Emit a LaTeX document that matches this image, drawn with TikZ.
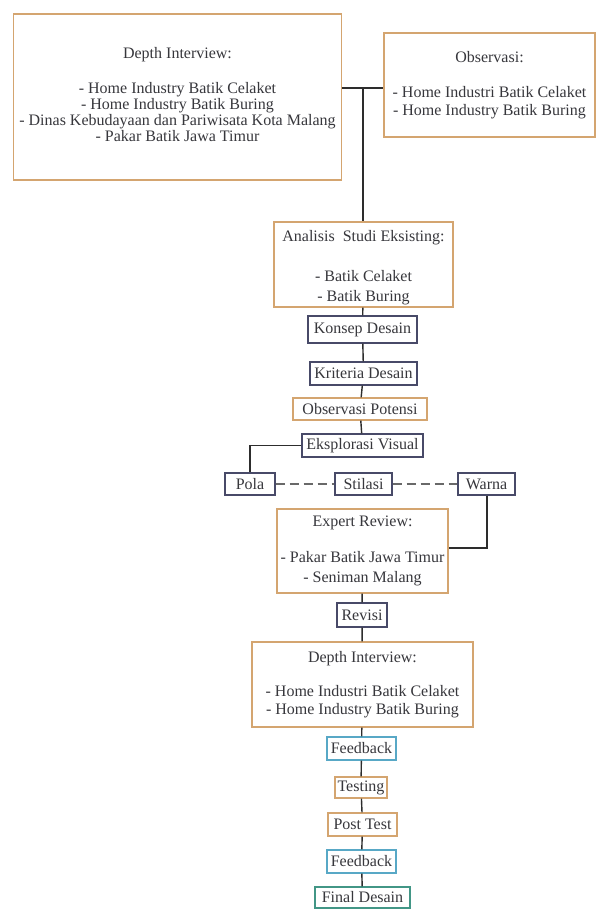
\documentclass[tikz,border=0pt]{standalone}
\usepackage{fontspec}
\setmainfont{Liberation Serif}
\definecolor{orangeb}{RGB}{212,165,112}
\definecolor{navyb}{RGB}{72,74,104}
\definecolor{fbblue}{RGB}{88,168,198}
\definecolor{finteal}{RGB}{66,150,134}
\definecolor{linec}{RGB}{45,45,45}
\definecolor{txtc}{RGB}{55,55,60}
\definecolor{dashc}{RGB}{105,105,105}
\begin{document}
\begin{tikzpicture}[x=1pt,y=-1pt,
  box/.style={draw, line width=1.4pt, inner sep=0pt, align=center, text=txtc,
    font=\fontsize{16}{16.5}\selectfont},
  obox/.style={box, draw=orangeb, fill=white},
  nbox/.style={box, draw=navyb},
  bbox/.style={box, draw=fbblue},
  tbox/.style={box, draw=finteal},
  conn/.style={draw=linec, line width=1.4pt},
  dconn/.style={draw=dashc, line width=1.7pt, dash pattern=on 9pt off 5pt}]
\useasboundingbox (0,0) rectangle (597,910);
\fill[white] (0,0) rectangle (597,910);

\node[obox, minimum width=328pt, minimum height=166pt] (di1) at (177.5,97)
  {Depth Interview:\\[18pt]- Home Industry Batik Celaket\\[-0.5pt]- Home Industry Batik Buring\\[-0.5pt]- Dinas Kebudayaan dan Pariwisata Kota Malang\\[-0.5pt]- Pakar Batik Jawa Timur\\[-11pt]};
\node[obox, minimum width=211pt, minimum height=104pt] (obs) at (489.5,85)
  {Observasi:\\[19pt]- Home Industri Batik Celaket\\[1.5pt]- Home Industry Batik Buring\\[-13pt]};
\node[obox, minimum width=179pt, minimum height=85pt] (ana) at (363.5,264.5)
  {Analisis\ \ Studi Eksisting:\\[24pt]- Batik Celaket\\[3.5pt]- Batik Buring\\[-19.5pt]};
\node[nbox, minimum width=109pt, minimum height=27pt] (kon) at (362.5,329.5) {Konsep Desain};
\node[nbox, minimum width=107pt, minimum height=23pt] (kri) at (363.5,373.5) {Kriteria Desain};
\node[obox, minimum width=134pt, minimum height=22pt] (obp) at (360,409) {Observasi Potensi};
\node[nbox, minimum width=121pt, minimum height=23pt] (eks) at (362.5,445.5) {Eksplorasi Visual};
\node[nbox, minimum width=50pt, minimum height=22pt] (pola) at (250,484) {Pola};
\node[nbox, minimum width=57pt, minimum height=22pt] (stil) at (363.5,484) {Stilasi};
\node[nbox, minimum width=57pt, minimum height=22pt] (warna) at (486.5,484) {Warna};
\node[obox, minimum width=171pt, minimum height=84pt] (exp) at (362.5,551)
  {Expert Review:\\[20pt]- Pakar Batik Jawa Timur\\[3.5pt]- Seniman Malang};
\node[nbox, minimum width=50pt, minimum height=24pt] (rev) at (362,615) {Revisi};
\node[obox, minimum width=221pt, minimum height=85pt] (di2) at (362.5,684.5)
  {Depth Interview:\\[18pt]- Home Industri Batik Celaket\\[1.5pt]- Home Industry Batik Buring};
\node[bbox, minimum width=69pt, minimum height=23pt] (fb1) at (361.5,748.5) {Feedback};
\node[obox, minimum width=52pt, minimum height=21pt] (tes) at (361,787.5) {Testing};
\node[obox, minimum width=69pt, minimum height=23pt] (post) at (362.5,824.5) {Post Test};
\node[bbox, minimum width=69pt, minimum height=23pt] (fb2) at (361.5,861.5) {Feedback};
\node[tbox, minimum width=95pt, minimum height=21pt] (fin) at (362.5,897.5) {Final Desain};

\coordinate (j1) at (363,88);
\coordinate (pc) at (250,445.5);
\coordinate (wc) at (487,548);
\draw[conn] (di1.east |- j1) -- (obs.west |- j1);
\draw[conn] (j1) -- (j1 |- ana.north);
\draw[conn] (ana) -- (kon);
\draw[conn] (kon) -- (kri);
\draw[conn] (kri) -- (obp);
\draw[conn] (obp) -- (eks);
\draw[conn] (eks.west) -- (pc) -- (pola.north);
\draw[dconn] (pola.east) -- (stil.west);
\draw[dconn] (stil.east) -- (warna.west);
\draw[conn] (warna.south -| wc) -- (wc) -- (exp.east |- wc);
\draw[conn] (exp) -- (rev);
\draw[conn] (rev) -- (di2);
\draw[conn] (di2) -- (fb1);
\draw[conn] (fb1) -- (tes);
\draw[conn] (tes) -- (post);
\draw[conn] (post) -- (fb2);
\draw[conn] (fb2) -- (fin);
\end{tikzpicture}
\end{document}
